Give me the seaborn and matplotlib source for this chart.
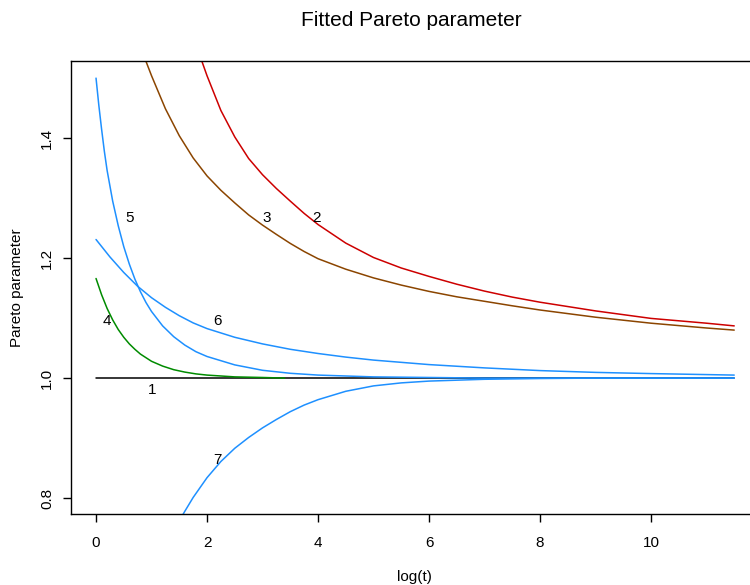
import numpy as np
import pandas as pd
import matplotlib
matplotlib.use("Agg")
import matplotlib.pyplot as plt
import seaborn as sns

# ---- data ----
x_1 = [0.0, 11.5]
y_1 = [1.0, 1.0]

x_2 = [1.85, 1.9, 2.0, 2.25, 2.5, 2.75, 3.0, 3.25, 3.5, 3.75, 4.0, 4.5, 5.0, 5.5,
       6.0, 6.5, 7.0, 7.5, 8.0, 9.0, 10.0, 11.0, 11.5]
y_2 = [1.544, 1.530, 1.504, 1.446, 1.402, 1.366, 1.339, 1.316, 1.295, 1.2745, 1.256,
       1.225, 1.201, 1.1835, 1.1695, 1.1565, 1.145, 1.135, 1.1265, 1.112, 1.0995,
       1.0915, 1.087]

x_3 = [0.85, 0.9, 1.0, 1.25, 1.5, 1.75, 2.0, 2.25, 2.5, 2.75, 3.0, 3.25, 3.5, 3.75,
       4.0, 4.5, 5.0, 5.5, 6.0, 6.5, 7.0, 7.5, 8.0, 9.0, 10.0, 11.0, 11.5]
y_3 = [1.540, 1.528, 1.504, 1.449, 1.404, 1.367, 1.337, 1.313, 1.292, 1.272, 1.255,
       1.2395, 1.2245, 1.211, 1.199, 1.1815, 1.167, 1.155, 1.1445, 1.1355, 1.128,
       1.1205, 1.1135, 1.1015, 1.0915, 1.0835, 1.080]

x_4 = [0.0, 0.1, 0.2, 0.3, 0.4, 0.5, 0.6, 0.7, 0.8, 0.9, 1.0, 1.2, 1.4, 1.6, 1.8,
       2.0, 2.5, 3.0, 3.4]
y_4 = [1.166, 1.139, 1.116, 1.097, 1.081, 1.068, 1.057, 1.048, 1.040, 1.034, 1.028,
       1.020, 1.014, 1.010, 1.007, 1.005, 1.002, 1.001, 1.000]

x_5 = [0.0, 0.05, 0.1, 0.15, 0.2, 0.3, 0.4, 0.5, 0.6, 0.7, 0.8, 0.9, 1.0, 1.2, 1.4,
       1.6, 1.8, 2.0, 2.5, 3.0, 3.5, 4.0, 5.0, 6.0, 7.0, 11.5]
y_5 = [1.500, 1.455, 1.415, 1.378, 1.346, 1.295, 1.254, 1.219, 1.190, 1.165, 1.144,
       1.126, 1.111, 1.087, 1.069, 1.055, 1.044, 1.036, 1.022, 1.013, 1.008, 1.005,
       1.002, 1.001, 1.000, 1.000]

x_6 = [0.0, 0.25, 0.5, 0.75, 1.0, 1.25, 1.5, 1.75, 2.0, 2.5, 3.0, 3.5, 4.0, 4.5,
       5.0, 6.0, 7.0, 8.0, 9.0, 10.0, 11.5]
y_6 = [1.231, 1.202, 1.176, 1.153, 1.134, 1.118, 1.104, 1.092, 1.0825, 1.068, 1.057,
       1.048, 1.041, 1.035, 1.030, 1.0225, 1.017, 1.0125, 1.0095, 1.0075, 1.005]

x_7 = [1.5, 1.6, 1.75, 2.0, 2.25, 2.5, 2.75, 3.0, 3.25, 3.5, 3.75, 4.0, 4.5, 5.0,
       5.5, 6.0, 7.0, 8.0, 9.0, 11.5]
y_7 = [0.762, 0.778, 0.801, 0.834, 0.861, 0.883, 0.901, 0.917, 0.931, 0.944, 0.955,
       0.964, 0.978, 0.987, 0.992, 0.995, 0.998, 0.9993, 1.000, 1.000]

curve_names = ["1", "2", "3", "4", "5", "6", "7"]
curve_colors = ["#000000", "#CD0000", "#8B4500", "#008B00", "#1E90FF", "#1E90FF", "#1E90FF"]

# label positions (x, y) next to each curve
label_x = [1.01, 3.98, 3.08, 0.20, 0.60, 2.18, 2.18]
label_y = [0.980, 1.267, 1.267, 1.095, 1.267, 1.095, 0.863]

x_ticks = [0, 2, 4, 6, 8, 10]
y_ticks = [0.8, 1.0, 1.2, 1.4]
y_tick_labels = ["0.8", "1.0", "1.2", "1.4"]

# ---- long-form table ----
xs = [x_1, x_2, x_3, x_4, x_5, x_6, x_7]
ys = [y_1, y_2, y_3, y_4, y_5, y_6, y_7]
frames = []
for name, xv, yv in zip(curve_names, xs, ys):
    frames.append(pd.DataFrame({"logt": xv, "pareto": yv, "curve": name}))
df = pd.concat(frames, ignore_index=True)

# ---- style ----
sns.set_style("ticks")
plt.rcParams["font.family"] = ["Liberation Sans", "DejaVu Sans"]
plt.rcParams["axes.linewidth"] = 1.0
plt.rcParams["text.color"] = "black"
plt.rcParams["xtick.color"] = "black"
plt.rcParams["ytick.color"] = "black"

fig = plt.figure(figsize=(7.5, 5.85), dpi=100)
ax = fig.add_axes([0.0943, 0.1209, 0.9187, 0.7753])

sns.lineplot(data=df, x="logt", y="pareto", hue="curve",
             palette=dict(zip(curve_names, curve_colors)),
             estimator=None, sort=False, linewidth=1.1, legend=False, ax=ax)

for name, lx, ly in zip(curve_names, label_x, label_y):
    ax.text(lx, ly, name, fontsize=11, ha="center", va="center", color="black")

ax.set_xlim(-0.456, 11.96)
ax.set_ylim(0.773, 1.529)
ax.set_xticks(x_ticks)
ax.set_yticks(y_ticks)
ax.set_yticklabels(y_tick_labels, rotation=90, va="center")
ax.tick_params(axis="both", labelsize=11, length=6, width=1.0,
               color="black", labelcolor="black")
ax.tick_params(axis="x", pad=10)
ax.tick_params(axis="y", pad=6)
for s in ax.spines.values():
    s.set_color("black")
    s.set_visible(True)

ax.set_xlabel("")
ax.set_ylabel("")
fig.text(0.553, 1 - 576.7 / 585, "log(t)", fontsize=11, ha="center", va="center")
fig.text(17 / 750, 1 - 287.5 / 585, "Pareto parameter", fontsize=11,
         rotation=90, ha="center", va="center")
fig.text(411 / 750, 1 - 21 / 585, "Fitted Pareto parameter", fontsize=15,
         ha="center", va="center")

fig.savefig("out.png", dpi=100)
